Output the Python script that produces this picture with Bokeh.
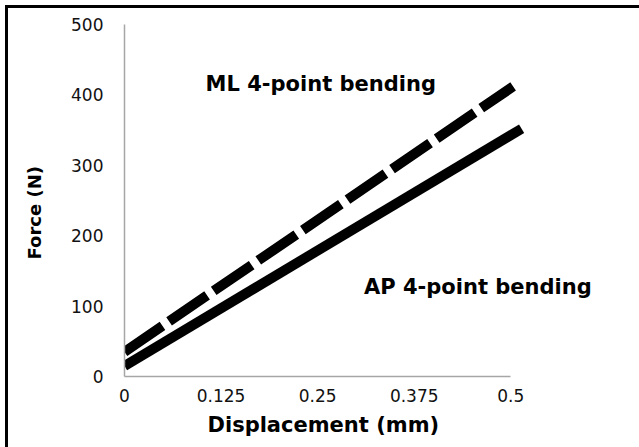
from bokeh.plotting import figure
from bokeh.models import Range1d, FixedTicker, Label, Title
from bokeh.embed import file_html
from bokeh.resources import INLINE

# Data
ap_disp = [0.0, 0.514]
ap_force = [15, 352]
ml_disp = [0.0, 0.503]
ml_force = [35, 412]

x_ticks = [0, 0.125, 0.25, 0.375, 0.5]
x_tick_labels = ["0", "0.125", "0.25", "0.375", "0.5"]
y_ticks = [0, 100, 200, 300, 400, 500]

p = figure(width=639, height=447, output_backend="svg", toolbar_location=None,
           x_range=Range1d(0, 0.62), y_range=Range1d(0, 500),
           min_border_left=124, min_border_right=36, min_border_top=24, min_border_bottom=70)
p.styles = {"box-shadow": "inset 5px 5px 0px 0px white, inset 8px 8px 0px 0px black",
            "background-color": "white", "vertical-align": "top"}
p.outline_line_color = None
p.xgrid.grid_line_color = None
p.ygrid.grid_line_color = None
p.background_fill_color = "white"
p.border_fill_alpha = 0

p.line(ap_disp, ap_force, line_color="black", line_width=10, line_cap="butt")
p.line(ml_disp, ml_force, line_color="black", line_width=10, line_cap="butt", line_dash="46 8")

for ax in (p.xaxis[0], p.yaxis[0]):
    ax.axis_line_color = "#a6a6a6"
    ax.axis_line_width = 1.5
    ax.major_tick_line_color = None
    ax.minor_tick_line_color = None
    ax.major_label_text_font = "DejaVu Sans"
    ax.major_label_text_font_size = "17px"
    ax.major_label_text_color = "#111111"

p.xaxis[0].ticker = FixedTicker(ticks=x_ticks)
p.xaxis[0].major_label_overrides = {t: l for t, l in zip(x_ticks, x_tick_labels)}
p.xaxis[0].bounds = (0, 0.5)
p.xaxis[0].major_label_standoff = 6

p.yaxis[0].ticker = FixedTicker(ticks=y_ticks)
p.yaxis[0].major_label_standoff = 15

x_title = Title(text="Displacement (mm)", align="left", offset=83, vertical_align="top",
                standoff=17, text_font="DejaVu Sans", text_font_style="bold",
                text_font_size="21px", text_color="black")
p.add_layout(x_title, "below")
y_title = Title(text="Force (N)", align="left", offset=117, vertical_align="middle",
                standoff=45, text_font="DejaVu Sans", text_font_style="bold",
                text_font_size="18px", text_color="black")
p.add_layout(y_title, "left")

p.add_layout(Label(x=0.105, y=416, text="ML 4-point bending", text_font="DejaVu Sans",
                   text_font_style="bold", text_font_size="21px", text_baseline="middle",
                   text_color="black"))
p.add_layout(Label(x=0.31, y=127, text="AP 4-point bending", text_font="DejaVu Sans",
                   text_font_style="bold", text_font_size="21px", text_baseline="middle",
                   text_color="black"))

open("out.html", "w").write(file_html(p, INLINE))
